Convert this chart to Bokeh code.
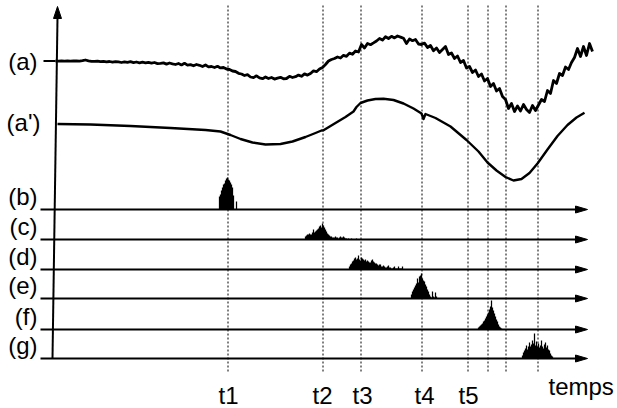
import numpy as np
from bokeh.plotting import figure
from bokeh.models import Range1d
from bokeh.core.properties import value
from bokeh.embed import file_html
from bokeh.resources import INLINE

# ---------------- data (schematic units: x = time, y = level, screen-like) ----------------
sig_a_x = list(range(55, 593, 3))
sig_a_y = [
    60.5, 60.6, 60.4, 60.7, 60.5, 60.6, 60.4, 60.5, 60.6, 60.2, 59.5, 60.3, 60.8, 60.9, 60.6, 61.2,
    60.8, 61.3, 61.0, 61.6, 61.1, 61.4, 62.0, 61.3, 61.8, 61.2, 62.1, 61.5, 62.3, 61.7, 62.4, 61.8,
    62.6, 62.0, 63.1, 62.9, 62.4, 63.6, 62.5, 63.3, 64.0, 63.0, 64.4, 62.8, 64.6, 64.1, 65.3, 64.0,
    64.8, 66.0, 64.5, 66.4, 66.0, 67.0, 65.8, 67.4, 67.0, 68.5, 69.0,
    70.5, 71.0, 72.8, 73.5, 75.0, 74.2, 76.5, 77.1, 75.3, 77.4, 78.2, 76.5, 78.0, 77.0, 78.6, 77.6,
    76.8, 78.3, 78.0, 75.8, 77.0, 76.2, 74.6, 75.8, 73.4, 74.6, 73.0, 70.4, 71.2, 68.5, 67.0,
    64.0, 60.5, 59.0, 58.0, 56.5, 57.5, 54.8, 55.8, 52.6, 53.8, 50.5, 51.5,
    44.0, 47.5, 43.0, 44.2, 42.4, 40.5, 38.0, 39.6, 36.2, 38.0, 35.8, 37.4, 35.5, 36.6, 37.8, 43.0,
    38.5, 40.2, 39.0, 43.5, 44.0, 42.6, 47.0, 45.0, 50.2, 47.5, 52.0, 49.0, 46.0, 54.0, 52.5, 58.0,
    55.5, 62.0, 60.0, 67.5, 66.0, 72.0, 69.5, 76.0, 73.5, 80.5, 78.0, 86.0, 83.0, 90.5, 88.0, 96.0,
    99.0, 108.0, 103.0, 111.0, 105.5, 110.5, 104.0, 109.0, 112.0, 105.0, 110.0, 104.5, 99.0, 101.0,
    90.0, 93.0, 80.0, 83.0, 73.0, 75.0, 66.5, 69.0, 62.0, 57.0, 48.0, 56.0, 46.0, 55.0, 43.0, 51.0,
]

smooth_x = [57, 90, 130, 170, 205, 220, 230, 240, 252, 265, 280, 292, 305, 315, 321, 323, 335, 345,
            353, 356, 360, 367, 375, 383, 393, 403, 413, 421, 423, 425, 435, 450, 466, 478, 487, 496,
            505, 513, 521, 529, 537, 547, 557, 567, 576, 584]
smooth_y = [123.5, 124.0, 125.5, 127.5, 129.5, 131.0, 134.5, 138.5, 142.0, 144.0, 143.5, 141.0, 136.5,
            132.5, 130.0, 129.8, 122.5, 116.5, 111.0, 106.5, 102.5, 100.0, 98.5, 98.3, 99.5, 103.0,
            108.0, 113.0, 118.5, 113.5, 117.5, 126.0, 139.5, 151.0, 162.0, 170.0, 176.5, 180.0, 178.5,
            172.5, 163.0, 149.0, 135.5, 124.5, 117.0, 112.3]

marker_times = [227, 322, 360, 421, 467, 487, 505, 537]
tick_labels = ["t1", "t2", "t3", "t4", "t5"]
tick_label_x = [228, 322, 362, 424, 468]

row_labels = ["(b)", "(c)", "(d)", "(e)", "(f)", "(g)"]
row_y = [209, 239, 269, 298, 329, 358]

hist_start = [219, 305, 349, 411, 478, 522]
hist_b = [13, 15, 19, 22, 25, 26, 29, 31, 32, 30, 29, 27, 25, 22, 14, 0, 0, 8]
hist_c = [3, 4, 5, 5, 6, 5, 5, 7, 10, 7, 8, 9, 10, 11, 13, 14, 12, 16, 14, 12, 10, 8, 6, 5, 4, 3,
          3, 2, 2, 2, 3, 2, 2, 1, 2, 3, 2, 2, 3, 2, 1, 1, 0, 1, 0, 0, 1, 0, 0, 0, 0, 1]
hist_d = [3, 5, 6, 8, 9, 11, 12, 10, 11, 14, 10, 9, 12, 11, 10, 9, 10, 8, 9, 8, 7, 7, 9, 10, 8, 7,
          6, 6, 5, 4, 5, 5, 3, 3, 4, 3, 2, 2, 3, 4, 2, 2, 1, 1, 2, 3, 1, 1, 1, 3, 1, 1, 1, 3]
hist_e = [4, 7, 9, 11, 13, 15, 20, 16, 22, 23, 25, 20, 18, 17, 14, 12, 9, 7, 4, 2, 1, 7, 2, 1, 6, 2]
hist_f = [2, 3, 4, 5, 6, 8, 9, 11, 13, 15, 17, 20, 23, 29, 22, 19, 16, 13, 10, 8, 5, 3, 2, 1]
hist_g = [3, 6, 8, 10, 13, 9, 12, 16, 12, 14, 18, 15, 25, 13, 17, 12, 15, 11, 13, 18, 12, 10, 14, 16,
          11, 13, 9, 8, 5, 3, 2]
hists = [hist_b, hist_c, hist_d, hist_e, hist_f, hist_g]

top_labels = ["(a)", "(a')"]
top_label_y = [60.5, 122]

# ---------------- styles / layout constants ----------------
FONT = value("Liberation Sans")
FSIZE = value("24px")
ARROW_X0, ARROW_TIP, HEAD_LEN, HEAD_HALF = 40, 587, 12, 3.5
AXIS_BOTTOM = (52, 358)
AXIS_TOP = (57, 17)
AXIS_TIP_Y = 6
DASH_TOP, DASH_BOTTOM = 5, 373
PX = 0.5  # half-pixel offset for crisp 1px dashed lines
W, H = 617, 408

p = figure(width=W, height=H, x_range=Range1d(0, W), y_range=Range1d(H, 0),
           output_backend="svg", toolbar_location=None,
           x_axis_location=None, y_axis_location=None, min_border=0,
           outline_line_color=None, background_fill_color="white", border_fill_color="white")
p.grid.grid_line_color = None

# dashed time markers
mx = [t + PX for t in marker_times]
p.segment(x0=mx, y0=[DASH_TOP] * len(mx), x1=mx, y1=[DASH_BOTTOM] * len(mx),
          line_color="black", line_width=1, line_dash="2 2")

# vertical axis with arrow head
p.line([AXIS_BOTTOM[0], AXIS_TOP[0]], [AXIS_BOTTOM[1], AXIS_TOP[1]], line_color="black", line_width=2)
p.patch([AXIS_TOP[0], AXIS_TOP[0] - 4, AXIS_TOP[0] + 4],
        [AXIS_TIP_Y, AXIS_TOP[1] + 1, AXIS_TOP[1] + 1], color="black")

# tick for (a)
p.segment(x0=[43], y0=[top_label_y[0]], x1=[55], y1=[top_label_y[0]], line_color="black", line_width=2)

# horizontal arrows
p.segment(x0=[ARROW_X0] * len(row_y), y0=row_y, x1=[ARROW_TIP - HEAD_LEN + 1] * len(row_y), y1=row_y,
          line_color="black", line_width=2.2)
p.patches(xs=[[ARROW_TIP - HEAD_LEN, ARROW_TIP, ARROW_TIP - HEAD_LEN] for _ in row_y],
          ys=[[y - HEAD_HALF, y, y + HEAD_HALF] for y in row_y], color="black")

# histograms
for start, h, base in zip(hist_start, hists, row_y):
    xs = np.arange(start, start + len(h))
    hh = np.array(h, dtype=float)
    keep = hh > 0
    p.vbar(x=xs[keep], width=1.25, bottom=base, top=base - hh[keep], color="black", line_width=0)

# signals
n = min(len(sig_a_x), len(sig_a_y))
p.line(sig_a_x[:n], sig_a_y[:n], line_color="black", line_width=2.8, line_join="round")
p.line(smooth_x, smooth_y, line_color="black", line_width=2.4, line_join="round")

# labels
p.text(x=[37, 40], y=top_label_y, text=top_labels, text_align="right", text_baseline="middle",
       text_font=FONT, text_font_size=FSIZE, text_color="black")
p.text(x=[37] * len(row_y), y=[y - 13 for y in row_y], text=row_labels, text_align="right",
       text_baseline="middle", text_font=FONT, text_font_size=FSIZE, text_color="black")
p.text(x=tick_label_x, y=[395] * len(tick_label_x), text=tick_labels, text_align="center",
       text_baseline="middle", text_font=FONT, text_font_size=FSIZE, text_color="black")
p.text(x=[548], y=[386], text=["temps"], text_align="left", text_baseline="middle",
       text_font=FONT, text_font_size=FSIZE, text_color="black")

open("out.html", "w").write(file_html(p, INLINE))
